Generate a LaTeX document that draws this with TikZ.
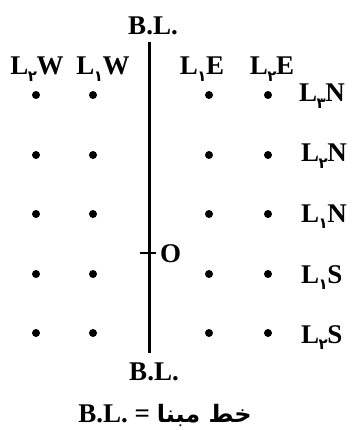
\documentclass[tikz,border=0pt]{standalone}
\usepackage{fontspec}
\setmainfont{Liberation Serif}
\newfontfamily\arabicfont[Script=Arabic]{DejaVu Sans}
\TeXXeTstate=1
\usetikzlibrary{positioning}
\newcommand{\fasub}[1]{\kern-0.5pt\raisebox{-0.55ex}{\arabicfont\fontsize{15}{15}\selectfont #1}\kern-0.5pt}
\newcommand{\Lab}[2]{L\fasub{#1}#2}

\begin{document}
\begin{tikzpicture}[x=1pt, y=-1pt, every node/.style={font=\bfseries\fontsize{27}{30}\selectfont, inner sep=0pt}]
        \tikzset{
          stake/.style={circle, fill=black, minimum size=8pt, inner sep=0pt},
          toplbl/.style={anchor=base},
          sidelbl/.style={anchor=base west}
        }
        \useasboundingbox (0,0) rectangle (358,430);
        % base line
        \coordinate (bltop) at (149,42);
        \coordinate (blbot) at (149,353);
        \draw[line width=3pt] (bltop) -- (blbot);
        \node[above=7pt of bltop, xshift=4pt] (bl1) {B.L.};
        \node[below=10pt of blbot, xshift=5pt] (bl2) {B.L.};
        % origin
        \coordinate (otl) at (140,253);
        \coordinate (otr) at (156,253);
        \draw[line width=2pt] (otl) -- (otr);
        \node[anchor=west] (olbl) at (160,254) {O};
        % stakes
        \foreach \x [count=\i] in {36,93,209,268}
          \foreach \y [count=\j] in {95,155,214,274,333}
            \node[stake] (s\i\j) at (\x,\y) {};
        % column labels
        \node[toplbl] (l2w) at (37,75) {\Lab{۲}{W}};
        \node[toplbl] (l1w) at (103,75) {\Lab{۱}{W}};
        \node[toplbl] (l1e) at (202,75) {\Lab{۱}{E}};
        \node[toplbl] (l2e) at (272,75) {\Lab{۲}{E}};
        % row labels
        \node[sidelbl] (l3n) at (299,102) {\Lab{۳}{N}};
        \node[sidelbl] (l2n) at (301,162) {\Lab{۲}{N}};
        \node[sidelbl] (l1n) at (301,222) {\Lab{۱}{N}};
        \node[sidelbl] (l1s) at (301,283) {\Lab{۱}{S}};
        \node[sidelbl] (l2s) at (301,343) {\Lab{۲}{S}};
        % legend
        \node[anchor=base] (legend) at (165,422) {B.L. = {\arabicfont\fontsize{24}{28}\selectfont\beginR خط مبنا\endR}};
      \end{tikzpicture}
\end{document}
